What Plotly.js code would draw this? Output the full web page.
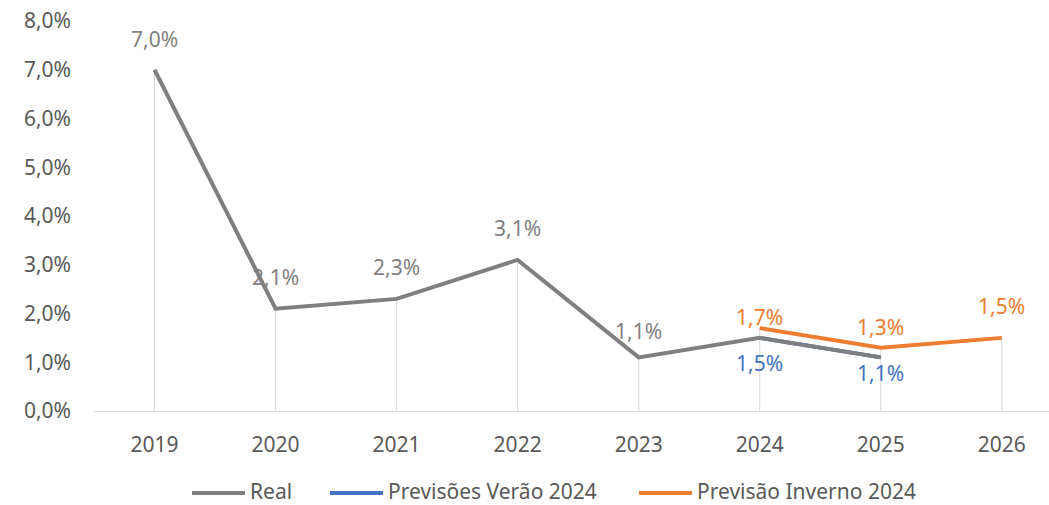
<!DOCTYPE html>
<html>
<head>
<meta charset="utf-8">
<script src="https://cdn.plot.ly/plotly-3.0.1.min.js"></script>
<style>html,body{margin:0;padding:0;background:#fff;}#chart{width:1049px;height:505px;}</style>
</head>
<body>
<div id="chart"></div>
<script>
// ---- data ----
const years = ['2019', '2020', '2021', '2022', '2023', '2024', '2025', '2026'];
const realValues = [7.0, 2.1, 2.3, 3.1, 1.1, 1.5, 1.1, null];
const veraoValues = [null, null, null, null, null, 1.5, 1.1, null];
const invernoValues = [null, null, null, null, null, 1.7, 1.3, 1.5];
const seriesNames = ['Real', 'Previsões Verão 2024', 'Previsão Inverno 2024'];

// ---- style ----
const FONT = '"Noto Sans", "DejaVu Sans", sans-serif';
const FS = 21;
const C_REAL = '#7f7f7f', C_VERAO = '#4472c4', C_INVERNO = '#ed7d31';
const C_TEXT = '#595959', C_AXIS = '#d9d9d9';
// label offsets (px) of the data labels, in order of appearance per series
const realLabelShift = [31, 32, 32, 32, 26];
const veraoLabelShift = [-25, -16];
const invernoLabelShift = [11, 21, 32];

// drop lines from the highest value in each category down to zero
const dropX = [], dropY = [];
years.forEach((yr, i) => {
  const vals = [realValues[i], veraoValues[i], invernoValues[i]].filter(v => v !== null);
  if (!vals.length) return;
  dropX.push(yr, yr, null);
  dropY.push(0, Math.max(...vals), null);
});

const traces = [
  {x: dropX, y: dropY, mode: 'lines', line: {color: C_AXIS, width: 1}, showlegend: false, hoverinfo: 'skip'},
  {x: years, y: veraoValues, name: seriesNames[1], mode: 'lines', line: {color: C_VERAO, width: 4}, showlegend: false},
  {x: years, y: realValues, name: seriesNames[0], mode: 'lines', line: {color: C_REAL, width: 4}, showlegend: false},
  {x: years, y: invernoValues, name: seriesNames[2], mode: 'lines', line: {color: C_INVERNO, width: 4}, showlegend: false}
];

const fmt = v => v.toFixed(1).replace('.', ',') + '%';
const annotations = [];
let kr = 0, kv = 0, ki = 0;
years.forEach((yr, i) => {
  if (realValues[i] !== null && veraoValues[i] === null) {
    annotations.push({x: i, y: realValues[i], text: fmt(realValues[i]), showarrow: false, yshift: realLabelShift[kr++],
      font: {family: FONT, size: FS, color: C_REAL}});
  }
});
years.forEach((yr, i) => {
  if (veraoValues[i] !== null) {
    annotations.push({x: i, y: veraoValues[i], text: fmt(veraoValues[i]), showarrow: false, yshift: veraoLabelShift[kv++],
      font: {family: FONT, size: FS, color: C_VERAO}});
  }
});
years.forEach((yr, i) => {
  if (invernoValues[i] !== null) {
    annotations.push({x: i, y: invernoValues[i], text: fmt(invernoValues[i]), showarrow: false, yshift: invernoLabelShift[ki++],
      font: {family: FONT, size: FS, color: C_INVERNO}});
  }
});

// custom legend (long line samples as in the reference), paper coordinates
const legendColors = [C_REAL, C_VERAO, C_INVERNO];
const legendStartPx = [192, 330, 639];
const PLOT_L = 94, PLOT_W = 955, PLOT_B = 411, PLOT_H = 390;
const px2x = p => (p - PLOT_L) / PLOT_W;
const py2y = p => (PLOT_B - p) / PLOT_H;
const LEG_LINE_Y = 493, LEG_TEXT_Y = 490.5, SAMPLE_LEN = 53;
const shapes = [];
seriesNames.forEach((name, j) => {
  const x0 = legendStartPx[j];
  shapes.push({type: 'line', xref: 'paper', yref: 'paper', x0: px2x(x0), x1: px2x(x0 + SAMPLE_LEN),
    y0: py2y(LEG_LINE_Y), y1: py2y(LEG_LINE_Y), line: {color: legendColors[j], width: 4}});
  annotations.push({xref: 'paper', yref: 'paper', x: px2x(x0 + SAMPLE_LEN + 4), y: py2y(LEG_TEXT_Y), xanchor: 'left', yanchor: 'middle',
    text: name, showarrow: false, borderpad: 0, font: {family: FONT, size: FS, color: C_TEXT}});
});

const layout = {
  width: 1049, height: 505,
  margin: {l: 94, r: 0, t: 21, b: 94, pad: 0},
  paper_bgcolor: '#fff', plot_bgcolor: '#fff',
  separators: ',.',
  font: {family: FONT, size: FS, color: C_TEXT},
  showlegend: false,
  xaxis: {type: 'category', range: [-0.5, 7.39], showgrid: false, zeroline: false, showline: true, linecolor: C_AXIS, linewidth: 1,
    ticks: '', ticklabelstandoff: 15, tickfont: {family: FONT, size: FS, color: C_TEXT}, fixedrange: true},
  yaxis: {range: [0, 8], dtick: 1, tickformat: '.1f', ticksuffix: '%', showgrid: false, zeroline: false, showline: false,
    ticks: '', ticklabelstandoff: 22, tickfont: {family: FONT, size: FS, color: C_TEXT}, fixedrange: true},
  shapes: shapes,
  annotations: annotations
};

Plotly.newPlot('chart', traces, layout, {staticPlot: true, displayModeBar: false});
</script>
</body>
</html>
